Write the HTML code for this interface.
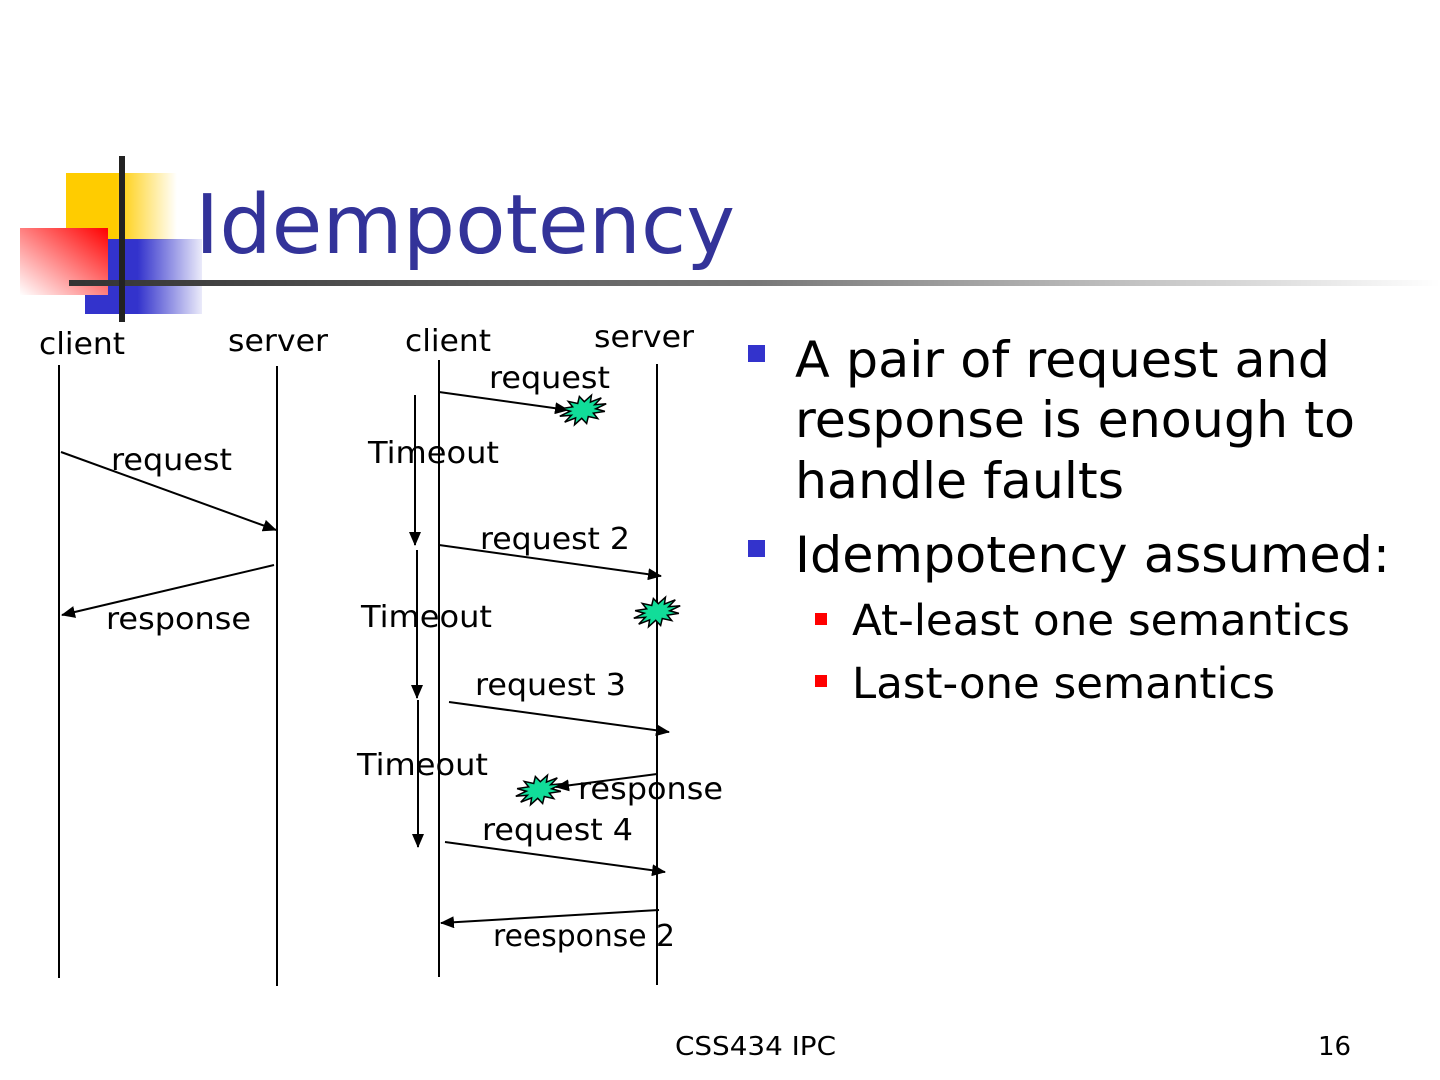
<!DOCTYPE html>
<html><head><meta charset="utf-8"><style>
html,body{margin:0;padding:0;background:#fff;}
svg{display:block;font-family:"DejaVu Sans","Liberation Sans",sans-serif;}
</style></head><body>
<svg width="1440" height="1080" viewBox="0 0 1440 1080" xmlns="http://www.w3.org/2000/svg">
<defs>
<linearGradient id="yel" x1="0" x2="1" y1="0" y2="0"><stop offset="0.45" stop-color="#ffcc00"/><stop offset="1" stop-color="#ffcc00" stop-opacity="0"/></linearGradient>
<linearGradient id="blu" x1="0" x2="1" y1="0" y2="0"><stop offset="0.45" stop-color="#3333cc"/><stop offset="1" stop-color="#3333cc" stop-opacity="0.1"/></linearGradient>
<linearGradient id="red" x1="1" x2="0" y1="0" y2="1"><stop offset="0" stop-color="#ff0000"/><stop offset="1" stop-color="#ffffff"/></linearGradient>
<linearGradient id="bar" x1="0" x2="1" y1="0" y2="0"><stop offset="0" stop-color="#333"/><stop offset="0.5" stop-color="#777"/><stop offset="1" stop-color="#fff"/></linearGradient>
<marker id="ah" markerWidth="14" markerHeight="12" refX="13" refY="6" orient="auto" markerUnits="userSpaceOnUse"><path d="M0,0 L14,6 L0,12 z" fill="#000"/></marker>
<polygon id="star" points="24,0 12.6,2.1 20.8,7 9.2,5.7 12,12.1 3.4,7.7 0,14 -3.4,7.7 -12,12.1 -9.2,5.7 -20.8,7 -12.6,2.1 -24,0 -12.6,-2.1 -20.8,-7 -9.2,-5.7 -12,-12.1 -3.4,-7.7 0,-14 3.4,-7.7 12,-12.1 9.2,-5.7 20.8,-7 12.6,-2.1" fill="#11dd99" stroke="#000" stroke-width="1.5"/>
</defs>
<rect x="66" y="173" width="111" height="67" fill="url(#yel)"/>
<rect x="85" y="239" width="117" height="75" fill="url(#blu)"/>
<rect x="20" y="228" width="88" height="67" fill="url(#red)"/>
<rect x="69" y="280" width="1371" height="6" fill="url(#bar)"/>
<rect x="119" y="156" width="6" height="166" fill="#222"/>
<text x="195" y="253" font-size="82" fill="#333399" textLength="540" lengthAdjust="spacingAndGlyphs">Idempotency</text>
<g stroke="#000" stroke-width="2" fill="none">
<line x1="59" y1="365" x2="59" y2="978"/>
<line x1="277" y1="366" x2="277" y2="986"/>
<line x1="439" y1="360" x2="439" y2="977"/>
<line x1="657" y1="364" x2="657" y2="985"/>
<line x1="415" y1="395" x2="415" y2="545" marker-end="url(#ah)"/>
<line x1="417" y1="550" x2="417" y2="698" marker-end="url(#ah)"/>
<line x1="418" y1="700" x2="418" y2="847" marker-end="url(#ah)"/>
<line x1="61" y1="452" x2="276" y2="530" marker-end="url(#ah)"/>
<line x1="274" y1="565" x2="62" y2="615" marker-end="url(#ah)"/>
<line x1="439" y1="392" x2="568" y2="410" marker-end="url(#ah)"/>
<line x1="439" y1="545" x2="661" y2="576" marker-end="url(#ah)"/>
<line x1="449" y1="702" x2="669" y2="732" marker-end="url(#ah)"/>
<line x1="657" y1="774" x2="556" y2="787" marker-end="url(#ah)"/>
<line x1="445" y1="842" x2="665" y2="872" marker-end="url(#ah)"/>
<line x1="659" y1="910" x2="441" y2="923" marker-end="url(#ah)"/>
</g>
<use href="#star" transform="translate(583,410) rotate(-15)"/>
<use href="#star" transform="translate(657,612) rotate(-15)"/>
<use href="#star" transform="translate(539,790) rotate(-15)"/>
<g font-size="30" fill="#000">
<text x="39" y="354" textLength="86" lengthAdjust="spacingAndGlyphs">client</text>
<text x="228" y="351" textLength="100" lengthAdjust="spacingAndGlyphs">server</text>
<text x="405" y="351" textLength="86" lengthAdjust="spacingAndGlyphs">client</text>
<text x="594" y="347" textLength="100" lengthAdjust="spacingAndGlyphs">server</text>
<text x="489" y="388" textLength="121" lengthAdjust="spacingAndGlyphs">request</text>
<text x="111" y="470" textLength="121" lengthAdjust="spacingAndGlyphs">request</text>
<text x="368" y="463" textLength="131" lengthAdjust="spacingAndGlyphs">Timeout</text>
<text x="480" y="549" textLength="150" lengthAdjust="spacingAndGlyphs">request 2</text>
<text x="106" y="629" textLength="145" lengthAdjust="spacingAndGlyphs">response</text>
<text x="361" y="627" textLength="131" lengthAdjust="spacingAndGlyphs">Timeout</text>
<text x="475" y="695" textLength="151" lengthAdjust="spacingAndGlyphs">request 3</text>
<text x="357" y="775" textLength="131" lengthAdjust="spacingAndGlyphs">Timeout</text>
<text x="578" y="799" textLength="145" lengthAdjust="spacingAndGlyphs">response</text>
<text x="482" y="840" textLength="151" lengthAdjust="spacingAndGlyphs">request 4</text>
<text x="493" y="946" textLength="182" lengthAdjust="spacingAndGlyphs">reesponse 2</text>
</g>
<rect x="748" y="345" width="17" height="17" fill="#3333cc"/>
<rect x="748" y="540" width="17" height="17" fill="#3333cc"/>
<g font-size="50" fill="#000">
<text x="795" y="377" textLength="535" lengthAdjust="spacingAndGlyphs">A pair of request and</text>
<text x="795" y="437" textLength="560" lengthAdjust="spacingAndGlyphs">response is enough to</text>
<text x="795" y="498" textLength="329" lengthAdjust="spacingAndGlyphs">handle faults</text>
<text x="795" y="572" textLength="595" lengthAdjust="spacingAndGlyphs">Idempotency assumed:</text>
</g>
<rect x="815" y="613" width="12" height="12" fill="#ff0000"/>
<rect x="815" y="675" width="12" height="12" fill="#ff0000"/>
<g font-size="43" fill="#000">
<text x="852" y="635" textLength="498" lengthAdjust="spacingAndGlyphs">At-least one semantics</text>
<text x="852" y="698" textLength="423" lengthAdjust="spacingAndGlyphs">Last-one semantics</text>
</g>
<text x="675" y="1055" font-size="26" textLength="161" lengthAdjust="spacingAndGlyphs">CSS434 IPC</text>
<text x="1318" y="1055" font-size="26">16</text>
</svg>
</body></html>
